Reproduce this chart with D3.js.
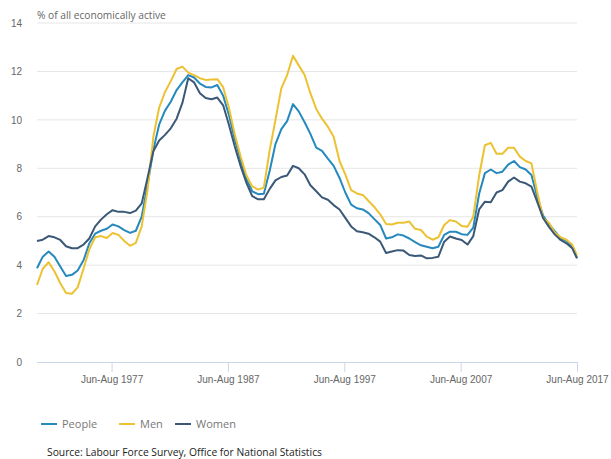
<!DOCTYPE html>
<html>
<head>
<meta charset="utf-8">
<script src="https://cdn.jsdelivr.net/npm/d3@7"></script>
<style>
  body { margin: 0; background: #fff; }
  svg { font-family: "Open Sans", "Noto Sans", sans-serif; }
</style>
</head>
<body>
<div id="chart"></div>
<script>
// half-yearly readings, centre month of each rolling quarter
var dates = [];
for (var yr = 1971; yr <= 2017; yr++) {
  dates.push(yr + "-02");
  dates.push(yr + (yr == 2017 ? "-07" : "-08"));
}

var people = [3.87,4.35,4.56,4.35,3.94,3.55,3.6,3.78,4.2,4.9,5.3,5.42,5.5,5.68,5.6,5.45,5.33,5.42,6.0,7.3,
  8.76,9.8,10.38,10.75,11.23,11.55,11.85,11.75,11.5,11.36,11.34,11.44,11.0,10.2,9.2,8.35,7.55,7.05,6.93,6.95,
  7.9,9.0,9.62,9.95,10.65,10.35,9.9,9.42,8.85,8.72,8.4,8.1,7.6,7.0,6.5,6.35,6.3,6.15,5.9,5.66,
  5.1,5.15,5.27,5.22,5.1,4.95,4.82,4.76,4.7,4.76,5.25,5.38,5.38,5.28,5.25,5.55,6.95,7.8,7.95,7.8,
  7.86,8.15,8.3,8.05,7.95,7.72,6.8,6.05,5.7,5.4,5.12,5.0,4.75,4.3];

var men = [3.18,3.85,4.12,3.75,3.25,2.85,2.82,3.08,3.85,4.65,5.15,5.2,5.12,5.33,5.25,5.0,4.8,4.92,5.6,7.1,
  9.3,10.5,11.15,11.6,12.1,12.2,11.95,11.85,11.72,11.65,11.67,11.68,11.35,10.5,9.4,8.5,7.7,7.25,7.12,7.2,
  8.75,10.0,11.3,11.85,12.65,12.25,11.85,11.1,10.45,10.05,9.72,9.3,8.3,7.75,7.1,6.96,6.9,6.65,6.4,6.1,
  5.7,5.68,5.75,5.75,5.8,5.5,5.45,5.18,5.05,5.15,5.66,5.86,5.8,5.62,5.59,6.0,7.7,8.95,9.05,8.6,
  8.6,8.85,8.85,8.48,8.3,8.2,7.0,5.95,5.75,5.35,5.15,5.05,4.85,4.4];

var women = [5.0,5.05,5.2,5.15,5.04,4.78,4.7,4.7,4.85,5.1,5.6,5.88,6.1,6.27,6.2,6.2,6.15,6.25,6.55,7.6,
  8.7,9.15,9.38,9.65,10.05,10.7,11.72,11.55,11.1,10.9,10.85,10.92,10.6,9.8,8.9,8.1,7.4,6.85,6.72,6.72,
  7.15,7.5,7.64,7.7,8.1,8.0,7.75,7.3,7.05,6.8,6.7,6.48,6.3,5.95,5.6,5.4,5.36,5.3,5.15,4.97,
  4.5,4.56,4.62,4.6,4.42,4.38,4.4,4.28,4.3,4.35,4.97,5.18,5.1,5.04,4.85,5.2,6.3,6.62,6.6,7.0,
  7.1,7.45,7.62,7.45,7.38,7.24,6.6,5.95,5.58,5.27,5.04,4.9,4.7,4.28];

var seriesNames = ["People", "Men", "Women"];
var colors = ["#2589bd", "#ecc232", "#3b5877"];
var yTicks = [0, 2, 4, 6, 8, 10, 12, 14];
var xTickDates = ["1977-07", "1987-07", "1997-07", "2007-07", "2017-07"];

var width = 611, height = 459;
var margin = {left: 37, right: 34, top: 23, bottom: 97};

var parse = d3.timeParse("%Y-%m");
var fmt = d3.timeFormat("%Y");

var svg = d3.select("#chart").append("svg")
    .attr("width", width)
    .attr("height", height);

var x = d3.scaleTime()
    .domain([parse("1971-02"), parse("2017-07")])
    .range([margin.left, width - margin.right]);

var y = d3.scaleLinear()
    .domain([0, 14])
    .range([height - margin.bottom, margin.top]);

// gridlines
svg.append("g").selectAll("line")
    .data(yTicks.filter(function(d){ return d > 0; }))
    .enter().append("line")
      .attr("x1", margin.left)
      .attr("x2", width - margin.right)
      .attr("y1", function(d){ return y(d); })
      .attr("y2", function(d){ return y(d); })
      .attr("stroke", "#e6e6e6")
      .attr("stroke-width", 1);

// y labels
var yAxis = d3.axisLeft(y).tickValues(yTicks).tickSize(0).tickPadding(15);
var gy = svg.append("g")
    .attr("transform", "translate(" + margin.left + ",0)")
    .call(yAxis);
gy.select(".domain").remove();
gy.selectAll("text").attr("fill", "#666").attr("font-size", "10px");

// x axis
var xAxis = d3.axisBottom(x)
    .tickValues(xTickDates.map(parse))
    .tickSize(10)
    .tickPadding(4)
    .tickFormat(function(d){ return "Jun-Aug " + fmt(d); });
var gx = svg.append("g")
    .attr("transform", "translate(0," + y(0) + ")")
    .call(xAxis);
gx.select(".domain").attr("stroke", "#ccd6eb").attr("d", "M" + margin.left + ",0.5H" + (width - margin.right));
gx.selectAll(".tick line").attr("stroke", "#ccd6eb");
gx.selectAll("text").attr("fill", "#666").attr("font-size", "10px");

svg.append("text")
    .attr("x", margin.left)
    .attr("y", 19)
    .attr("fill", "#666")
    .attr("font-size", "10.2px")
    .text("% of all economically active");

// lines, drawn people first, women on top as in the original
var allSeries = [people, men, women];
var line = d3.line()
    .x(function(d, i){ return x(parse(dates[i])); })
    .y(function(d){ return y(d); });

svg.append("g").selectAll("path")
    .data(allSeries)
    .enter().append("path")
      .attr("d", line)
      .attr("fill", "none")
      .attr("stroke", function(d, i){ return colors[i]; })
      .attr("stroke-width", 2)
      .attr("stroke-linejoin", "round");

// legend
var legendX = [41, 119, 175];
var lg = svg.append("g").selectAll("g")
    .data(seriesNames)
    .enter().append("g")
      .attr("transform", function(d, i){ return "translate(" + legendX[i] + ",424)"; });
lg.append("line")
    .attr("x1", 0).attr("x2", 16)
    .attr("stroke", function(d, i){ return colors[i]; })
    .attr("stroke-width", 2);
lg.append("text")
    .attr("x", 21)
    .attr("y", 4)
    .attr("fill", "#777")
    .attr("font-size", "11px")
    .text(function(d){ return d; });

svg.append("text")
    .attr("x", 47)
    .attr("y", 456)
    .attr("fill", "#222")
    .attr("font-size", "10.3px")
    .text("Source: Labour Force Survey, Office for National Statistics");
</script>
</body>
</html>
